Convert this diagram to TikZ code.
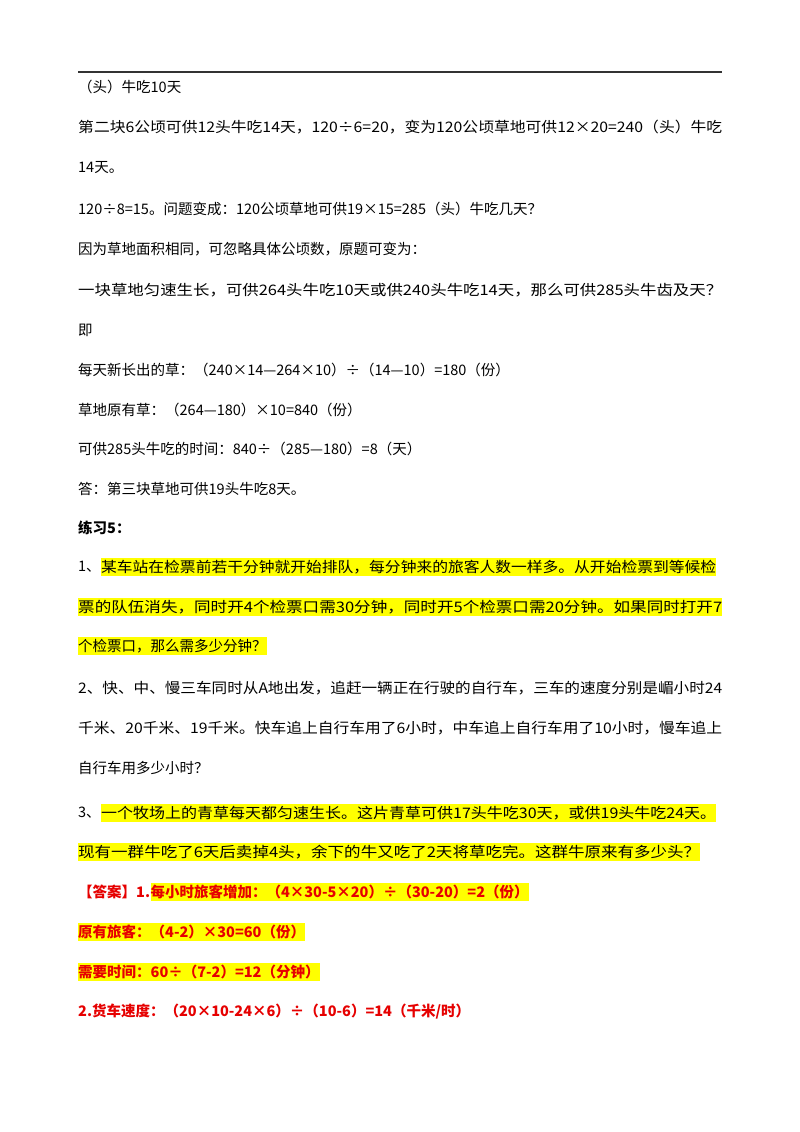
\documentclass[tikz,border=0pt]{standalone}
\usepackage{fontspec}
\usepackage{graphicx}
\setmainfont{Noto Sans CJK SC}
\definecolor{hl}{RGB}{255,255,0}
\definecolor{rd}{RGB}{230,0,0}
\newcommand\fw[1]{\resizebox{644pt}{\height}{#1}}
\begin{document}
\begin{tikzpicture}[x=1pt,y=-1pt,
  t/.style={anchor=west,inner sep=0pt,font=\fontsize{14.5}{16}\selectfont},
  h/.style={t,fill=hl,inner ysep=2pt},
  a/.style={h,text=rd,font=\fontsize{14.5}{16}\selectfont\bfseries}]
\useasboundingbox[fill=white] (0,0) rectangle (800,1132);
\draw[line width=1.3pt,black!80] (78,72) coordinate (r1) -- (722,72) coordinate (r2);
\node[t] (l1) at (78,87) {（头）牛吃10天};
\node[t] (l2) at (78,127) {\fw{第二块6公顷可供12头牛吃14天，120÷6=20，变为120公顷草地可供12×20=240（头）牛吃}};
\node[t] (l3) at (78,168) {14天。};
\node[t] (l4) at (78,209) {120÷8=15。问题变成：120公顷草地可供19×15=285（头）牛吃几天？};
\node[t] (l5) at (78,249) {因为草地面积相同，可忽略具体公顷数，原题可变为：};
\node[t] (l6) at (78,290) {\fw{一块草地匀速生长，可供264头牛吃10天或供240头牛吃14天，那么可供285头牛齿及天？}};
\node[t] (l7) at (78,330) {即};
\node[t] (l8) at (78,370) {每天新长出的草：（240×14—264×10）÷（14—10）=180（份）};
\node[t] (l9) at (78,410) {草地原有草：（264—180）×10=840（份）};
\node[t] (l10) at (78,449) {可供285头牛吃的时间：840÷（285—180）=8（天）};
\node[t] (l11) at (78,489) {答：第三块草地可供19头牛吃8天。};
\node[t,font=\fontsize{14.5}{16}\selectfont\bfseries] (l12) at (78,528) {练习5：};
\node[t] (l13a) at (78,567) {1、};
\node[h] (l13b) at (l13a.east) {\resizebox{615pt}{\height}{某车站在检票前若干分钟就开始排队，每分钟来的旅客人数一样多。从开始检票到等候检}};
\node[h] (l14) at (78,607) {\fw{票的队伍消失，同时开4个检票口需30分钟，同时开5个检票口需20分钟。如果同时打开7}};
\node[h] (l15) at (78,646) {个检票口，那么需多少分钟？};
\node[t] (l16) at (78,688) {\fw{2、快、中、慢三车同时从A地出发，追赶一辆正在行驶的自行车，三车的速度分别是嵋小时24}};
\node[t] (l17) at (78,728) {\fw{千米、20千米、19千米。快车追上自行车用了6小时，中车追上自行车用了10小时，慢车追上}};
\node[t] (l18) at (78,768) {自行车用多少小时？};
\node[t] (l19a) at (78,813) {3、};
\node[h] (l19b) at (l19a.east) {\resizebox{615pt}{\height}{一个牧场上的青草每天都匀速生长。这片青草可供17头牛吃30天，或供19头牛吃24天。}};
\node[h] (l20) at (78,852) {\resizebox{622pt}{\height}{现有一群牛吃了6天后卖掉4头，余下的牛又吃了2天将草吃完。这群牛原来有多少头？}};
\node[t,text=rd,font=\fontsize{14.5}{16}\selectfont\bfseries] (l21a) at (78,892) {【答案】1.};
\node[a] (l21b) at (l21a.east) {每小时旅客增加：（4×30-5×20）÷（30-20）=2（份）};
\node[a] (l22) at (78,932) {原有旅客：（4-2）×30=60（份）};
\node[a] (l23) at (78,972) {需要时间：60÷（7-2）=12（分钟）};
\node[t,text=rd,font=\fontsize{14.5}{16}\selectfont\bfseries] (l24) at (78,1012) {2.货车速度：（20×10-24×6）÷（10-6）=14（千米/时）};
\end{tikzpicture}
\end{document}
